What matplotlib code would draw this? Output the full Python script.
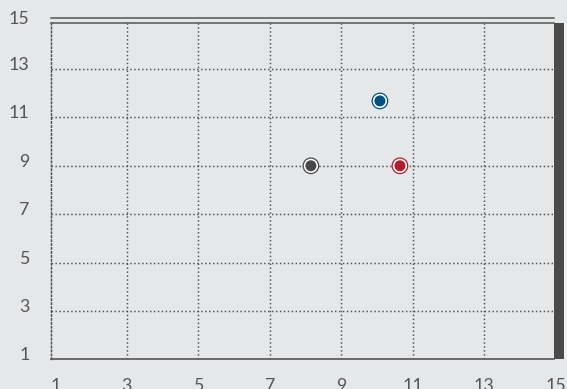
import matplotlib.pyplot as plt
from matplotlib.patches import Rectangle
from matplotlib.lines import Line2D
from matplotlib.transforms import blended_transform_factory, offset_copy

# axis ticks
x_ticks = [1, 3, 5, 7, 9, 11, 13, 15]
y_ticks = [1, 3, 5, 7, 9, 11, 13, 15]

# points
pt_x = [8.15, 10.08, 10.64]
pt_y = [9.0, 11.68, 9.0]
pt_colors = ['#484848', '#005082', '#b01e2d']

BG = '#e6e7e9'
INK = '#555555'
DOTS = (0, (1, 1.7))
W, H = 567, 389

plt.rcParams['font.family'] = ['Lato', 'DejaVu Sans']

fig = plt.figure(figsize=(W / 100, H / 100), dpi=100, facecolor=BG)
ax = fig.add_axes([50.7 / W, 1 - 359.4 / H, (554 - 50.7) / W, (359.4 - 22.7) / H])
ax.set_facecolor(BG)
ax.set_xlim(0.874, 14.948)
ax.set_ylim(1, 14.913)
ax.set_xticks([])
ax.set_yticks([])

# dotted grid
for v in x_ticks[1:-1]:
    ax.axvline(v, ls=DOTS, lw=1.05, color='#4d4d4d', zorder=1)
for v in y_ticks[1:-1]:
    ax.axhline(v, ls=DOTS, lw=1.05, color='#4d4d4d', zorder=1)

ax.spines['left'].set_linestyle(DOTS)
ax.spines['left'].set_linewidth(1.05)
ax.spines['left'].set_color('#4d4d4d')
ax.spines['bottom'].set_linewidth(1.2)
ax.spines['bottom'].set_color(INK)
ax.spines['top'].set_linewidth(1.1)
ax.spines['top'].set_color(INK)
ax.spines['right'].set_visible(False)

# double rule on top and dark bar on the right
fig.add_artist(Line2D([50.7 / W, 554 / W], [1 - 18.3 / H] * 2, lw=1.1, color=INK))
fig.add_artist(Rectangle((554 / W, 1 - 359.4 / H), 10 / W, (359.4 - 22.7) / H,
                         transform=fig.transFigure, color='#4a4a4a', lw=0))
fig.add_artist(Rectangle((564 / W, 1 - 359.4 / H), 3 / W, (359.4 - 22.7) / H,
                         transform=fig.transFigure, color='#f0f1f2', lw=0))

# tick labels
xt = offset_copy(blended_transform_factory(ax.transData, ax.transAxes), fig=fig, x=0, y=-19, units='dots')
for v in x_ticks:
    ax.text(v, 0, str(v), transform=xt, ha='center', va='top', fontsize=12.8,
            color=INK, clip_on=False)
yt = offset_copy(blended_transform_factory(ax.transAxes, ax.transData), fig=fig, x=-21, y=-1, units='dots')
ytop = ax.get_ylim()[1]
for v in y_ticks:
    ax.text(0, min(v, ytop), str(v), transform=yt, ha='right', va='baseline',
            fontsize=12.8, color=INK, clip_on=False)

# points: filled dot inside a thin ring
ax.scatter(pt_x, pt_y, s=125, facecolor='white', edgecolors=pt_colors, linewidths=0.9, zorder=3)
ax.scatter(pt_x, pt_y, s=63, color=pt_colors, linewidths=0, zorder=4)

fig.savefig('out.png', dpi=100, facecolor=BG)
